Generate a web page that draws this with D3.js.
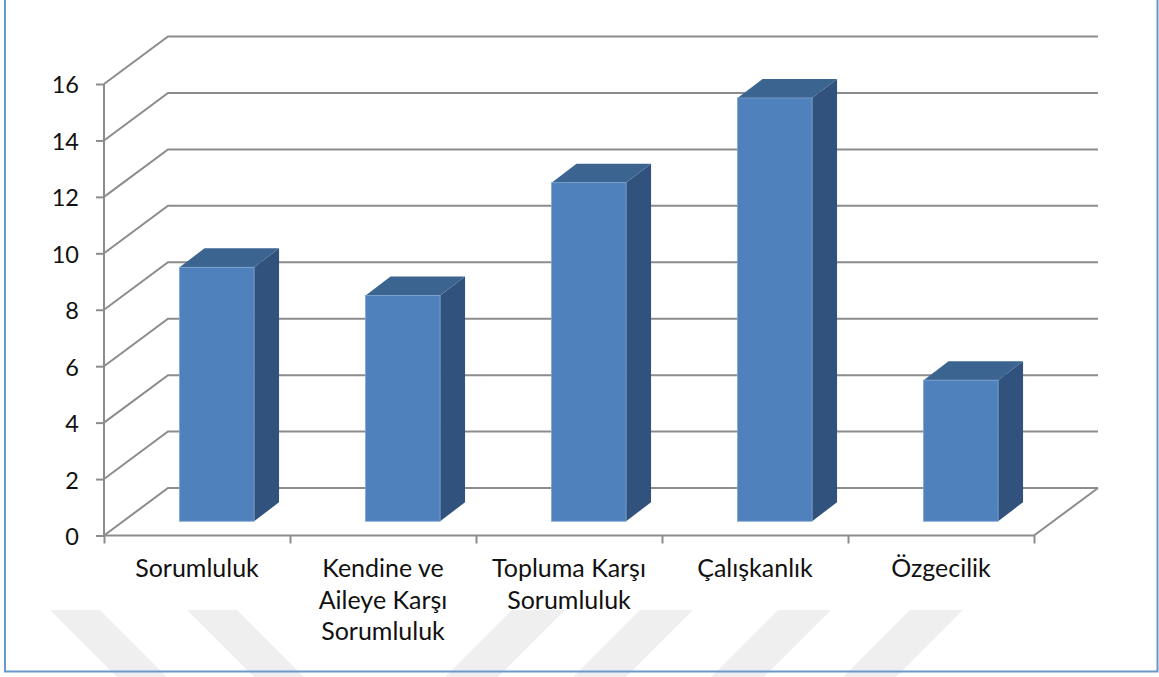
<!DOCTYPE html>
<html><head><meta charset="utf-8">
<script src="https://cdn.jsdelivr.net/npm/d3@7"></script>
<style>html,body{margin:0;padding:0;background:#fff}svg{display:block}text{font-family:Lato,"Open Sans",sans-serif;fill:#111}</style>
</head><body><svg id="c" width="1159" height="677"></svg>
<script>
const categories = [["Sorumluluk"],["Kendine ve","Aileye Karşı","Sorumluluk"],["Topluma Karşı","Sorumluluk"],["Çalışkanlık"],["Özgecilik"]];
const values = [9,8,12,15,5];
const yTicks = [0,2,4,6,8,10,12,14,16];
const wmDown = [50,187];
const wmUp = [512,640,778,910];

(function(){
const svg = d3.select("#c");
const y = d3.scaleLinear().domain([0,16]).range([535.5,84]);
const x = d3.scaleBand().domain(d3.range(values.length)).range([104,1034]);
const edge = d3.scaleLinear().domain([0,values.length]).range([104,1034]);
const zx = d3.scaleLinear().domain([0,1]).range([0,64]);
const zy = d3.scaleLinear().domain([0,1]).range([0,-47.5]);
const grey = "#8c8c8c";
const barW = 74.5, z0 = 0.31, z1 = 0.7;

// background watermark
const wm = svg.append("g").attr("fill","#efefef");
const H = 70, W = 50;
wm.selectAll(".d").data(wmDown).join("polygon").attr("class","d")
  .attr("points",d=>[[d,610],[d+W,610],[d+W+H,610+H],[d+H,610+H]].join(" "));
wm.selectAll(".u").data(wmUp).join("polygon").attr("class","u")
  .attr("points",d=>[[d,610],[d+53,610],[d+53-H,610+H],[d-H,610+H]].join(" "));

// frame
svg.append("path").attr("d","M5,-2V671.5H1157.5V-2").attr("fill","none").attr("stroke","#6b97cb").attr("stroke-width",2);

// walls
const g = svg.append("g").attr("fill","none").attr("stroke",grey).attr("stroke-width",2);
g.selectAll(".grid").data(yTicks).join("path").attr("class","grid")
  .attr("d",d=>d3.line()([[x.range()[0],y(d)],[x.range()[0]+zx(1),y(d)+zy(1)],[x.range()[1]+zx(1),y(d)+zy(1)]]));
g.append("path").attr("d",d3.line()([[x.range()[1],y(0)],[x.range()[1]+zx(1),y(0)+zy(1)]]));

// axes
const axL = svg.append("g").attr("transform","translate(104,0)")
  .call(d3.axisLeft(y).tickValues(yTicks).tickSize(8).tickPadding(17).tickFormat(d3.format("d")));
const axB = svg.append("g").attr("transform",`translate(0,${y(0)})`)
  .call(d3.axisBottom(edge).tickValues(d3.range(values.length+1)).tickSize(8).tickFormat(""));
[axL,axB].forEach(a=>a.selectAll("path,line").attr("stroke",grey).attr("stroke-width",2));
axL.select(".domain").attr("d",`M0,${y(16)}V${y(0)}`);
axB.select(".domain").attr("d","M104,0H1034");
axL.selectAll("text").style("font-size","23.5px").attr("dy","0.38em");

// bars
const bars = svg.append("g").selectAll("g").data(values).join("g");
const fx = i => x(i)+x.bandwidth()/2+zx(z0)-barW/2;
const base = y(0)+zy(0.3), dx = zx(z1)-zx(z0), dy = zy(z1)-zy(0.3);
const topY = v => y(v)+zy(0.3);
bars.append("polygon").attr("fill","#31527c")
  .attr("points",(v,i)=>[[fx(i)+barW,topY(v)],[fx(i)+barW+dx,topY(v)+dy],[fx(i)+barW+dx,base+dy],[fx(i)+barW,base]].join(" "));
bars.append("polygon").attr("fill","#3c6491")
  .attr("points",(v,i)=>[[fx(i),topY(v)],[fx(i)+dx,topY(v)+dy],[fx(i)+barW+dx,topY(v)+dy],[fx(i)+barW,topY(v)]].join(" "));
bars.append("rect").attr("fill","#4f81bd").attr("stroke","#7ea3cf").attr("stroke-width",0.8)
  .attr("x",(v,i)=>fx(i)).attr("y",v=>topY(v)).attr("width",barW).attr("height",v=>base-topY(v));

// category labels
const lab = svg.append("g").attr("text-anchor","middle").style("font-size","25px");
categories.forEach((lines,i)=>{
  lines.forEach((t,j)=>{
    lab.append("text").attr("x",x(i)+x.bandwidth()/2).attr("y",577+j*31.5).text(t);
  });
});
})();
</script></body></html>
